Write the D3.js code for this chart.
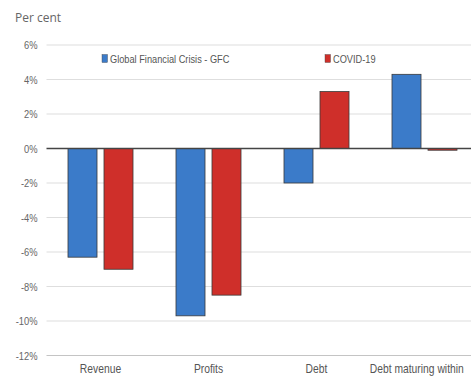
<!DOCTYPE html>
<html><head><meta charset="utf-8">
<script src="https://cdn.jsdelivr.net/npm/d3@7"></script>
<style>
html,body{margin:0;padding:0;background:#fff;overflow:hidden;}
svg{display:block;}
</style></head>
<body>
<svg id="chart" width="471" height="379"></svg>
<script>
const categories = ["Revenue", "Profits", "Debt", "Debt maturing within"];
const seriesNames = ["Global Financial Crisis - GFC", "COVID-19"];
const gfcValues = [-6.3, -9.7, -2.0, 4.3];
const covidValues = [-7.0, -8.5, 3.3, -0.1];
const tickValues = [6, 4, 2, 0, -2, -4, -6, -8, -10, -12];
const colors = ["#3b7bc9", "#cf2f2a"];
const yLabel = "Per cent";

const svg = d3.select("#chart");
const font = "'Liberation Sans',Arial,sans-serif";
const left = 46.5, step = 108;
const x0 = d3.scaleBand().domain(categories).range([left, left + step * categories.length]).padding(0);
const x1 = d3.scaleBand().domain(seriesNames).range([0, step]).paddingInner(0.194).paddingOuter(0.597);
const y = d3.scaleLinear().domain([-12, 6]).range([355.5, 45]);

// gridlines
const grid = svg.append("g");
grid.selectAll("line").data(tickValues.filter(d => d !== 0)).join("line")
  .attr("x1", left).attr("x2", 471)
  .attr("y1", d => y(d)).attr("y2", d => y(d))
  .attr("stroke", d => d === -12 ? "#c4c4c4" : "#dedede").attr("stroke-width", 1.2);

// y axis labels
const yAxis = d3.axisLeft(y).tickValues(tickValues).tickSize(0).tickPadding(0).tickFormat(d => d + "%");
const ya = svg.append("g").attr("transform", "translate(37.5,0)").call(yAxis);
ya.select(".domain").remove();
ya.selectAll("text").attr("font-family", font).attr("font-size", 11).attr("fill", "#666")
  .attr("transform", "scale(0.85,1)");

// bars
const data = categories.map((c, i) => ({cat: c, vals: [gfcValues[i], covidValues[i]]}));
const groups = svg.append("g").selectAll("g").data(data).join("g")
  .attr("transform", d => `translate(${x0(d.cat)},0)`);
groups.selectAll("rect").data(d => d.vals.map((v, j) => ({s: seriesNames[j], v, j}))).join("rect")
  .attr("x", d => x1(d.s)).attr("width", x1.bandwidth())
  .attr("y", d => y(Math.max(0, d.v)))
  .attr("height", d => Math.abs(y(d.v) - y(0)))
  .attr("fill", d => colors[d.j]).attr("stroke", "#3a3a3a").attr("stroke-width", 0.8);

// zero line
svg.append("line").attr("x1", left).attr("x2", 471).attr("y1", y(0)).attr("y2", y(0))
  .attr("stroke", "#444").attr("stroke-width", 1.5);

// x axis labels
const xAxis = d3.axisBottom(x0).tickSize(0).tickPadding(0);
const xa = svg.append("g").attr("transform", "translate(0,364)").call(xAxis);
xa.select(".domain").remove();
xa.selectAll("text").attr("font-family", font).attr("font-size", 12).attr("fill", "#555")
  .attr("transform", "scale(0.86,1)");
xa.selectAll("text").filter(d => d === categories[categories.length - 1]).attr("dx", -9);

// y label
svg.append("text").attr("x", 15).attr("y", 22).text(yLabel)
  .attr("font-family", "'Open Sans',sans-serif").attr("font-size", 12).attr("fill", "#666");

// legend
const legendX = [102, 325];
const lg = svg.append("g").selectAll("g").data(seriesNames).join("g")
  .attr("transform", (d, i) => `translate(${legendX[i]},54)`);
lg.append("rect").attr("width", 5.5).attr("height", 8).attr("y", 0.5).attr("fill", (d, i) => colors[i]).attr("stroke", "#444").attr("stroke-width", 0.4);
lg.append("text").attr("x", 8 / 0.84).attr("y", 8.5).text(d => d)
  .attr("transform", "scale(0.84,1)")
  .attr("font-family", font).attr("font-size", 11).attr("fill", "#555");
</script>
</body></html>
